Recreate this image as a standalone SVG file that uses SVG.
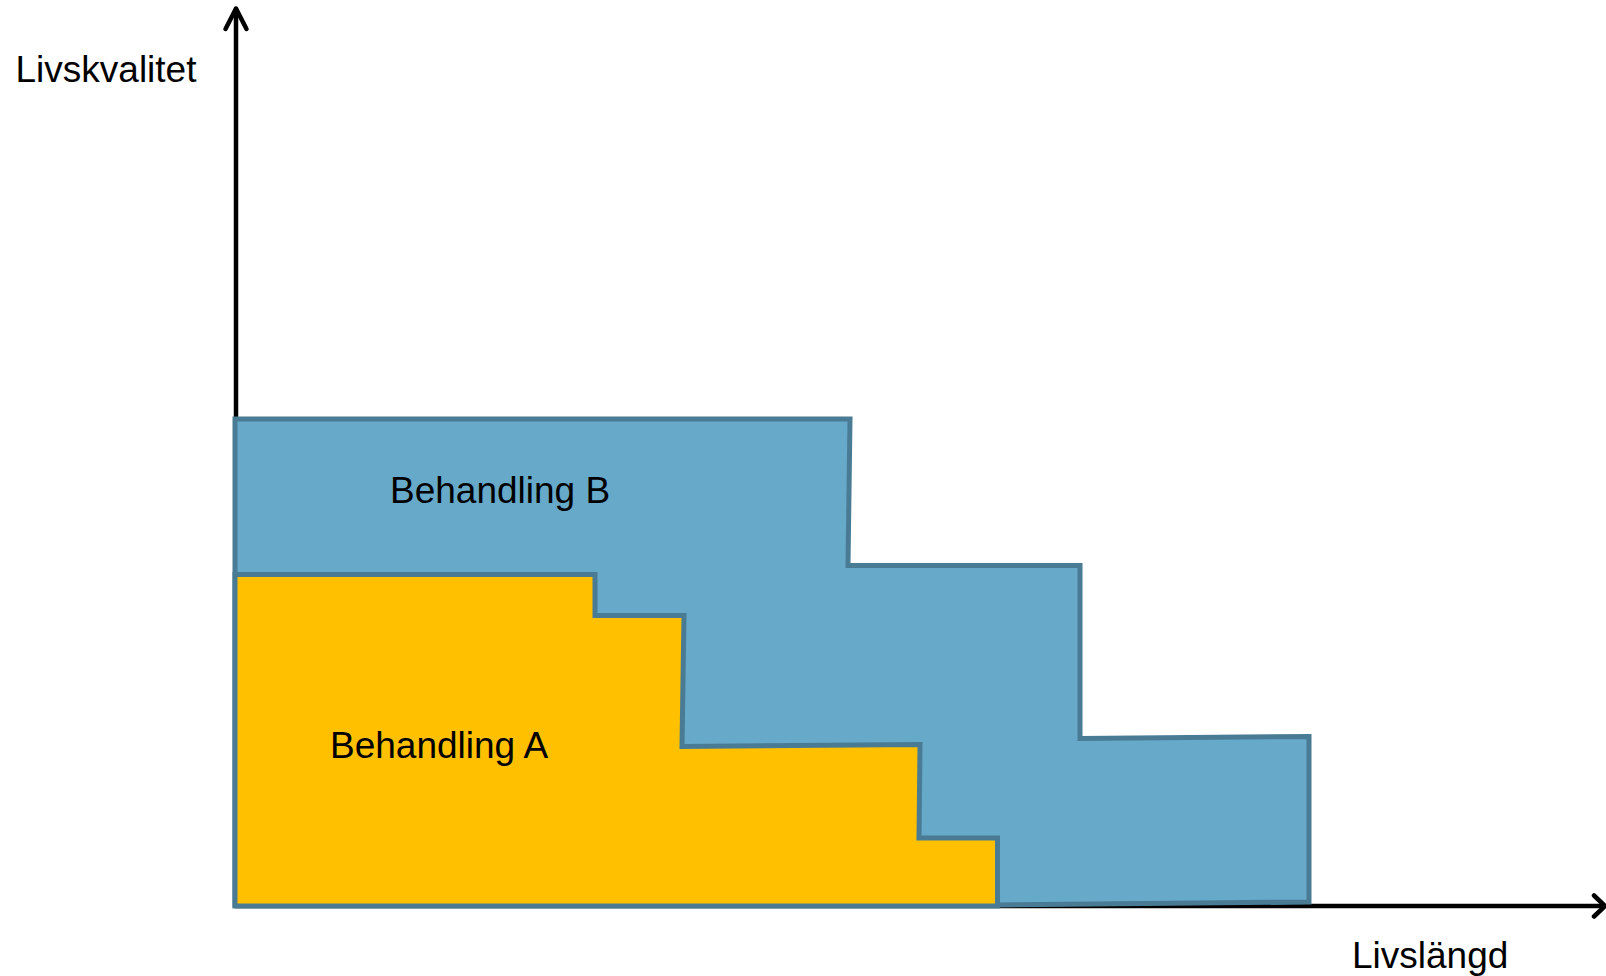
<svg xmlns="http://www.w3.org/2000/svg" width="1606" height="976" viewBox="0 0 1606 976">
<style>
.axis{stroke:#000;stroke-width:4.5;fill:none;stroke-linecap:round;stroke-linejoin:round}
.shape{stroke:#4A7B94;stroke-width:5;stroke-linejoin:miter}
.lbl{font-family:"Liberation Sans",Arial,sans-serif;font-size:37px;fill:#000}
</style>
<rect width="1606" height="976" fill="#fff"/>
<g id="connectors">
<path class="axis" d="M236 906 V9"/>
<path class="axis" d="M225.5 29 L236 8.5 L246.5 29"/>
<path class="axis" d="M236 906 H1604"/>
<path class="axis" d="M1594 895.5 L1605 906 L1594 916.5"/>
</g>
<g id="behandling-b">
<polygon class="shape" fill="#67A9C8" points="235,419 850,419 848,565.5 1080,565.5 1080,738.5 1309,736.5 1309,902 997,905 235,905"/>
<text class="lbl" x="390" y="503">Behandling B</text>
</g>
<g id="behandling-a">
<polygon class="shape" fill="#FFC000" points="235,574.5 595,574.5 595,615.5 684,615.5 682,746.5 920,744.5 919,838 997.5,838 997.5,906 235,906"/>
<text class="lbl" x="330" y="758">Behandling A</text>
</g>
<g id="axis-labels">
<text class="lbl" x="15.5" y="82">Livskvalitet</text>
<text class="lbl" x="1352" y="968">Livslängd</text>
</g>
</svg>
